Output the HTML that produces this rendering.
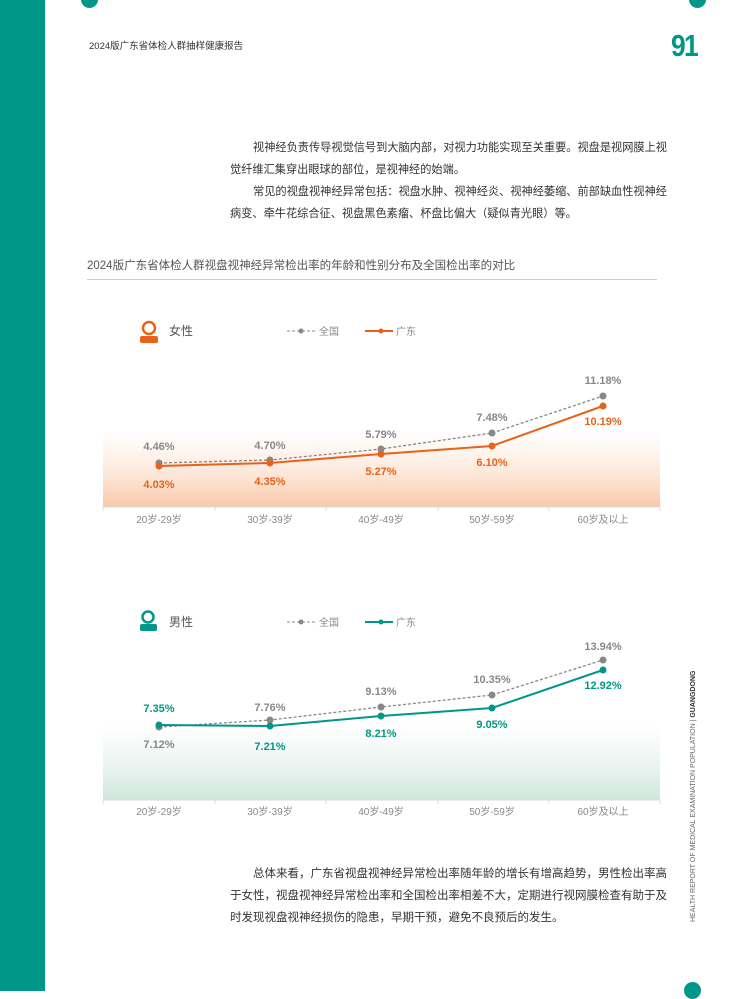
<!DOCTYPE html>
<html><head><meta charset="utf-8"><style>
body{margin:0;width:730px;height:991px;position:relative;background:#fff;overflow:hidden;font-family:"Liberation Sans","Noto Sans CJK SC",sans-serif;}
.a{position:absolute;white-space:nowrap}
p{margin:0}
.t{font-size:11.5px;line-height:22px;color:#333;white-space:normal;width:440px}
.t p{text-indent:23px}
</style></head><body>
<div class="a" style="left:0;top:0;width:45px;height:991px;background:#009688"></div>
<div class="a" style="left:81px;top:-9px;width:17px;height:17px;border-radius:50%;background:#009688"></div>
<div class="a" style="left:689px;top:-9px;width:17px;height:17px;border-radius:50%;background:#009688"></div>
<div class="a" style="left:684px;top:982px;width:17px;height:17px;border-radius:50%;background:#009688"></div>
<div class="a" style="left:89px;top:38px;font-size:9.5px;color:#333">2024版广东省体检人群抽样健康报告</div>
<div class="a" style="left:671px;top:28px;font-size:31px;font-weight:bold;color:#009688;letter-spacing:-2px;transform:scaleX(0.85);transform-origin:left">91</div>
<div class="a t" style="left:230px;top:137px;width:441px;font-size:11.2px">
<p>视神经负责传导视觉信号到大脑内部，对视力功能实现至关重要。视盘是视网膜上视觉纤维汇集穿出眼球的部位，是视神经的始端。</p>
<p>常见的视盘视神经异常包括：视盘水肿、视神经炎、视神经萎缩、前部缺血性视神经病变、牵牛花综合征、视盘黑色素瘤、杯盘比偏大（疑似青光眼）等。</p></div>
<div class="a" style="left:87px;top:257px;font-size:11.5px;color:#555">2024版广东省体检人群视盘视神经异常检出率的年龄和性别分布及全国检出率的对比</div>
<div class="a" style="left:87px;top:279px;width:570px;height:1px;background:#ccc"></div>
<svg class="a" style="left:0;top:0" width="730" height="991" font-family="Liberation Sans, Noto Sans CJK SC, sans-serif">
<defs>
<linearGradient id="go" x1="0" y1="0" x2="0" y2="1"><stop offset="0" stop-color="#fde3d2" stop-opacity="0"/><stop offset="1" stop-color="#f9c9a8"/></linearGradient>
<linearGradient id="gg" x1="0" y1="0" x2="0" y2="1"><stop offset="0" stop-color="#e0efe9" stop-opacity="0"/><stop offset="1" stop-color="#cfe6dc"/></linearGradient>
</defs>
<rect x="103" y="430" width="557" height="77" fill="url(#go)"/>
<line x1="103" y1="507" x2="660" y2="507" stroke="#ddd"/>
<g stroke="#ddd"><line x1="103" y1="507" x2="103" y2="511"/><line x1="215" y1="507" x2="215" y2="511"/><line x1="326" y1="507" x2="326" y2="511"/><line x1="438" y1="507" x2="438" y2="511"/><line x1="549" y1="507" x2="549" y2="511"/><line x1="660" y1="507" x2="660" y2="511"/></g>
<g font-size="10" fill="#888" text-anchor="middle"><text x="159" y="523">20岁-29岁</text><text x="270" y="523">30岁-39岁</text><text x="381" y="523">40岁-49岁</text><text x="492" y="523">50岁-59岁</text><text x="603" y="523">60岁及以上</text></g>
<circle cx="149" cy="328" r="6" fill="none" stroke="#e8621a" stroke-width="2.5"/><rect x="140" y="336" width="18" height="7" rx="2" fill="#e8621a"/>
<text x="169" y="335" font-size="12" fill="#555">女性</text>
<line x1="287" y1="331" x2="315" y2="331" stroke="#888" stroke-dasharray="3,2"/><circle cx="301" cy="331" r="2.5" fill="#888"/>
<text x="319" y="335" font-size="10" fill="#888">全国</text>
<line x1="365" y1="331" x2="393" y2="331" stroke="#e8621a" stroke-width="2"/><circle cx="381" cy="331" r="2.5" fill="#e8621a"/>
<text x="396" y="335" font-size="10" fill="#888">广东</text>
<polyline points="159,463 270,460 381,449 492,433 603,396" fill="none" stroke="#888" stroke-width="1.3" stroke-dasharray="3,2"/>
<polyline points="159,466 270,463 381,454 492,446 603,406" fill="none" stroke="#e8621a" stroke-width="2"/>
<g fill="#888"><circle cx="159" cy="463" r="3.5"/><circle cx="270" cy="460" r="3.5"/><circle cx="381" cy="449" r="3.5"/><circle cx="492" cy="433" r="3.5"/><circle cx="603" cy="396" r="3.5"/></g>
<g fill="#e8621a"><circle cx="159" cy="466" r="3.5"/><circle cx="270" cy="463" r="3.5"/><circle cx="381" cy="454" r="3.5"/><circle cx="492" cy="446" r="3.5"/><circle cx="603" cy="406" r="3.5"/></g>
<g font-size="11" font-weight="bold" text-anchor="middle" fill="#888"><text x="159" y="450">4.46%</text><text x="270" y="449">4.70%</text><text x="381" y="438">5.79%</text><text x="492" y="421">7.48%</text><text x="603" y="384">11.18%</text></g>
<g font-size="11" font-weight="bold" text-anchor="middle" fill="#e8621a"><text x="159" y="488">4.03%</text><text x="270" y="485">4.35%</text><text x="381" y="475">5.27%</text><text x="492" y="466">6.10%</text><text x="603" y="425">10.19%</text></g>
<rect x="103" y="725" width="557" height="75" fill="url(#gg)"/>
<line x1="103" y1="800" x2="660" y2="800" stroke="#ddd"/>
<g stroke="#ddd"><line x1="103" y1="800" x2="103" y2="804"/><line x1="215" y1="800" x2="215" y2="804"/><line x1="326" y1="800" x2="326" y2="804"/><line x1="438" y1="800" x2="438" y2="804"/><line x1="549" y1="800" x2="549" y2="804"/><line x1="660" y1="800" x2="660" y2="804"/></g>
<g font-size="10" fill="#888" text-anchor="middle"><text x="159" y="815">20岁-29岁</text><text x="270" y="815">30岁-39岁</text><text x="381" y="815">40岁-49岁</text><text x="492" y="815">50岁-59岁</text><text x="603" y="815">60岁及以上</text></g>
<circle cx="148" cy="617" r="5.5" fill="none" stroke="#009688" stroke-width="2.5"/><rect x="140" y="624" width="17" height="7" rx="2" fill="#009688"/>
<text x="169" y="626" font-size="12" fill="#555">男性</text>
<line x1="287" y1="622" x2="315" y2="622" stroke="#888" stroke-dasharray="3,2"/><circle cx="301" cy="622" r="2.5" fill="#888"/>
<text x="319" y="626" font-size="10" fill="#888">全国</text>
<line x1="365" y1="622" x2="393" y2="622" stroke="#009688" stroke-width="2"/><circle cx="381" cy="622" r="2.5" fill="#009688"/>
<text x="396" y="626" font-size="10" fill="#888">广东</text>
<polyline points="159,727 270,720 381,707 492,695 603,660" fill="none" stroke="#888" stroke-width="1.3" stroke-dasharray="3,2"/>
<polyline points="159,725 270,726 381,716 492,708 603,670" fill="none" stroke="#009688" stroke-width="2"/>
<g fill="#888"><circle cx="159" cy="727" r="3.5"/><circle cx="270" cy="720" r="3.5"/><circle cx="381" cy="707" r="3.5"/><circle cx="492" cy="695" r="3.5"/><circle cx="603" cy="660" r="3.5"/></g>
<g fill="#009688"><circle cx="159" cy="725" r="3.5"/><circle cx="270" cy="726" r="3.5"/><circle cx="381" cy="716" r="3.5"/><circle cx="492" cy="708" r="3.5"/><circle cx="603" cy="670" r="3.5"/></g>
<g font-size="11" font-weight="bold" text-anchor="middle" fill="#888"><text x="159" y="748">7.12%</text><text x="270" y="711">7.76%</text><text x="381" y="695">9.13%</text><text x="492" y="683">10.35%</text><text x="603" y="650">13.94%</text></g>
<g font-size="11" font-weight="bold" text-anchor="middle" fill="#009688"><text x="159" y="712">7.35%</text><text x="270" y="750">7.21%</text><text x="381" y="737">8.21%</text><text x="492" y="728">9.05%</text><text x="603" y="689">12.92%</text></g>
<text transform="translate(695,922) rotate(-90)" font-size="7" fill="#666">HEALTH REPORT OF MEDICAL EXAMINATION POPULATION  |  <tspan font-weight="bold" fill="#333">GUANGDONG</tspan></text>
</svg>
<div class="a t" style="left:230px;top:863px"><p>总体来看，广东省视盘视神经异常检出率随年龄的增长有增高趋势，男性检出率高于女性，视盘视神经异常检出率和全国检出率相差不大，定期进行视网膜检查有助于及时发现视盘视神经损伤的隐患，早期干预，避免不良预后的发生。</p></div>
</body></html>
